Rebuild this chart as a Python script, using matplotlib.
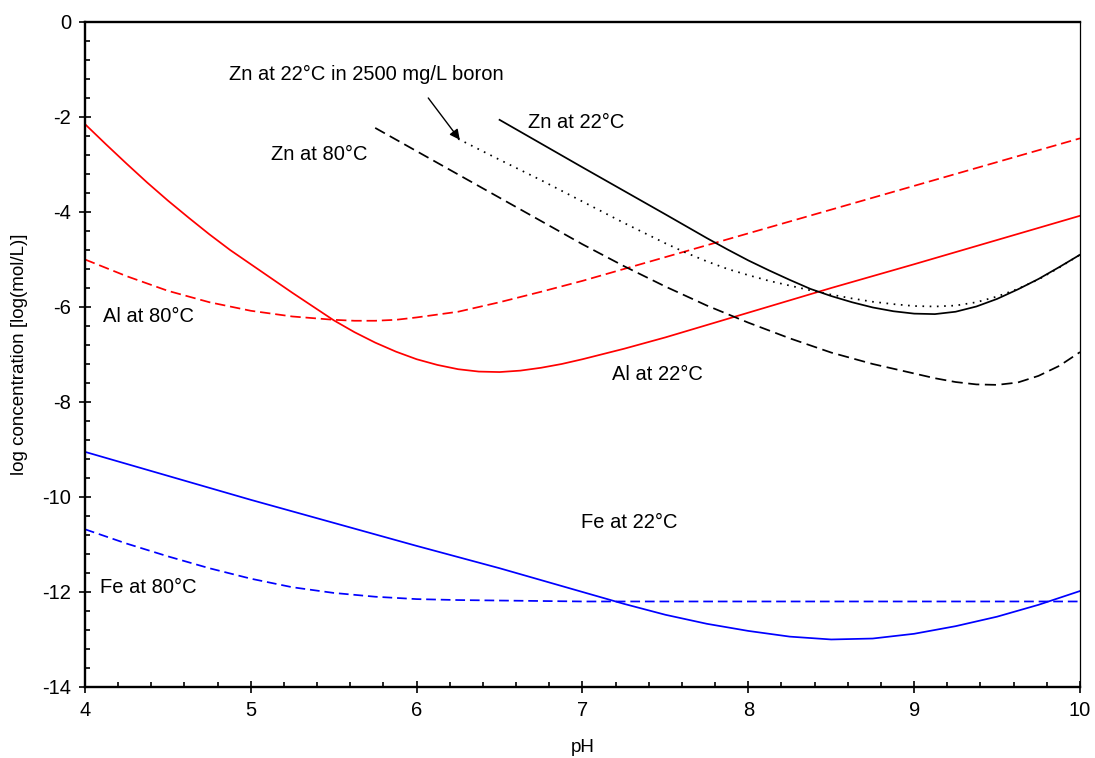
import matplotlib
matplotlib.use('Agg')
import matplotlib.pyplot as plt
from matplotlib.ticker import MultipleLocator

plt.rcParams['font.family'] = ['Liberation Sans', 'DejaVu Sans']
plt.rcParams['lines.scale_dashes'] = False
plt.rcParams['axes.unicode_minus'] = False

# Al at 22 C (red solid)
al22_ph = [4.0, 4.125, 4.25, 4.375, 4.5, 4.625, 4.75, 4.875, 5.0, 5.125, 5.25, 5.375, 5.5, 5.625,
           5.75, 5.875, 6.0, 6.125, 6.25, 6.375, 6.5, 6.625, 6.75, 6.875, 7.0, 7.25, 7.5, 7.75,
           8.0, 8.5, 9.0, 9.5, 10.0]
al22_c = [-2.15, -2.57, -2.98, -3.38, -3.76, -4.12, -4.47, -4.8, -5.1, -5.4, -5.7, -5.99, -6.28, -6.53,
          -6.75, -6.94, -7.1, -7.22, -7.31, -7.36, -7.37, -7.34, -7.28, -7.2, -7.1, -6.88, -6.64, -6.38,
          -6.12, -5.6, -5.1, -4.59, -4.08]

# Al at 80 C (red dashed)
al80_ph = [4.0, 4.25, 4.5, 4.75, 5.0, 5.25, 5.5, 5.625, 5.75, 5.875, 6.0, 6.25, 6.5, 6.75, 7.0,
           7.5, 8.0, 8.5, 9.0, 9.5, 10.0]
al80_c = [-5.0, -5.35, -5.66, -5.9, -6.08, -6.2, -6.27, -6.29, -6.29, -6.27, -6.22, -6.1, -5.9, -5.68, -5.45,
          -4.95, -4.45, -3.95, -3.45, -2.95, -2.45]

# Zn at 22 C (black solid)
zn22_ph = [6.5, 7.0, 7.5, 7.75, 7.875, 8.0, 8.125, 8.25, 8.375, 8.5, 8.625, 8.75, 8.875, 9.0,
           9.125, 9.25, 9.375, 9.5, 9.625, 9.75, 9.875, 10.0]
zn22_c = [-2.06, -3.06, -4.05, -4.55, -4.79, -5.02, -5.23, -5.43, -5.62, -5.77, -5.9, -6.01, -6.09, -6.14,
          -6.15, -6.1, -5.99, -5.83, -5.63, -5.41, -5.16, -4.9]

# Zn at 22 C in 2500 mg/L boron (black dotted)
znb_ph = [6.25, 6.5, 6.75, 7.0, 7.25, 7.5, 7.625, 7.75, 7.875, 8.0, 8.125, 8.25, 8.375, 8.5, 8.625,
          8.75, 8.875, 9.0, 9.125, 9.25, 9.375, 9.5, 9.625, 9.75, 9.875, 10.0]
znb_c = [-2.46, -2.9, -3.33, -3.78, -4.23, -4.66, -4.86, -5.04, -5.2, -5.33, -5.45, -5.55, -5.65, -5.74, -5.82,
         -5.89, -5.94, -5.98, -5.99, -5.97, -5.9, -5.78, -5.62, -5.42, -5.17, -4.9]

# Zn at 80 C (black dashed)
zn80_ph = [5.75, 6.0, 6.5, 7.0, 7.25, 7.5, 7.75, 8.0, 8.25, 8.5, 8.75, 9.0, 9.125, 9.25, 9.375,
           9.5, 9.625, 9.75, 9.875, 10.0]
zn80_c = [-2.23, -2.72, -3.7, -4.68, -5.14, -5.57, -5.97, -6.33, -6.66, -6.96, -7.2, -7.4, -7.5, -7.58, -7.63,
          -7.64, -7.59, -7.45, -7.24, -6.95]

# Fe at 22 C (blue solid)
fe22_ph = [4.0, 5.0, 6.0, 6.5, 7.0, 7.25, 7.5, 7.75, 8.0, 8.25, 8.5, 8.75, 9.0, 9.25, 9.5, 9.75, 10.0]
fe22_c = [-9.05, -10.06, -11.03, -11.5, -12.0, -12.25, -12.48, -12.67, -12.82, -12.94, -13.0, -12.98, -12.88,
          -12.72, -12.52, -12.27, -11.98]

# Fe at 80 C (blue dashed)
fe80_ph = [4.0, 4.25, 4.5, 4.75, 5.0, 5.25, 5.5, 5.75, 6.0, 6.25, 6.5, 7.0, 8.0, 9.0, 10.0]
fe80_c = [-10.68, -10.98, -11.25, -11.5, -11.72, -11.9, -12.02, -12.1, -12.15, -12.17, -12.18, -12.2, -12.2,
          -12.2, -12.2]

fig = plt.figure(figsize=(10.95, 7.58), dpi=100)
ax = fig.add_axes([0.0776, 0.0937, 0.9087, 0.8773])

lw = 1.25
ax.plot(al22_ph, al22_c, color='#ff0000', lw=lw)
ax.plot(al80_ph, al80_c, color='#ff0000', lw=lw, dashes=(7.5, 3.5))
ax.plot(zn22_ph, zn22_c, color='black', lw=lw)
ax.plot(znb_ph, znb_c, color='black', lw=lw, dashes=(1.2, 4))
ax.plot(zn80_ph, zn80_c, color='black', lw=lw, dashes=(8, 4))
ax.plot(fe22_ph, fe22_c, color='#0000ff', lw=lw)
ax.plot(fe80_ph, fe80_c, color='#0000ff', lw=lw, dashes=(7, 3.5))

fs = 14.5
ax.text(4.87, -1.1, 'Zn at 22°C in 2500 mg/L boron', fontsize=fs, va='center')
ax.annotate('', xy=(6.26, -2.48), xytext=(6.07, -1.6),
            arrowprops=dict(arrowstyle='-|>', color='black', lw=1.0,
                            mutation_scale=15, shrinkA=0, shrinkB=0))
ax.text(6.67, -2.12, 'Zn at 22°C', fontsize=fs, va='center')
ax.text(5.12, -2.8, 'Zn at 80°C', fontsize=fs, va='center')
ax.text(4.11, -6.19, 'Al at 80°C', fontsize=fs, va='center')
ax.text(7.18, -7.43, 'Al at 22°C', fontsize=fs, va='center')
ax.text(6.99, -10.53, 'Fe at 22°C', fontsize=fs, va='center')
ax.text(4.09, -11.9, 'Fe at 80°C', fontsize=fs, va='center')

ax.set_xlim(4, 10)
ax.set_ylim(-14, 0)
ax.xaxis.set_major_locator(MultipleLocator(1))
ax.xaxis.set_minor_locator(MultipleLocator(0.2))
ax.yaxis.set_major_locator(MultipleLocator(2))
ax.yaxis.set_minor_locator(MultipleLocator(0.4))

for s in ['left', 'bottom', 'top']:
    ax.spines[s].set_linewidth(1.7)
ax.spines['right'].set_linewidth(0.9)

ax.tick_params(which='major', direction='inout', length=8, width=1.2, labelsize=fs, pad=6)
ax.tick_params(which='minor', direction='in', length=3.6, width=1.2)

ax.set_xlabel('pH', fontsize=13.5, labelpad=14)
ax.set_ylabel('log concentration [log(mol/L)]', fontsize=13.5, labelpad=10)

fig.savefig('out.png', dpi=100)
